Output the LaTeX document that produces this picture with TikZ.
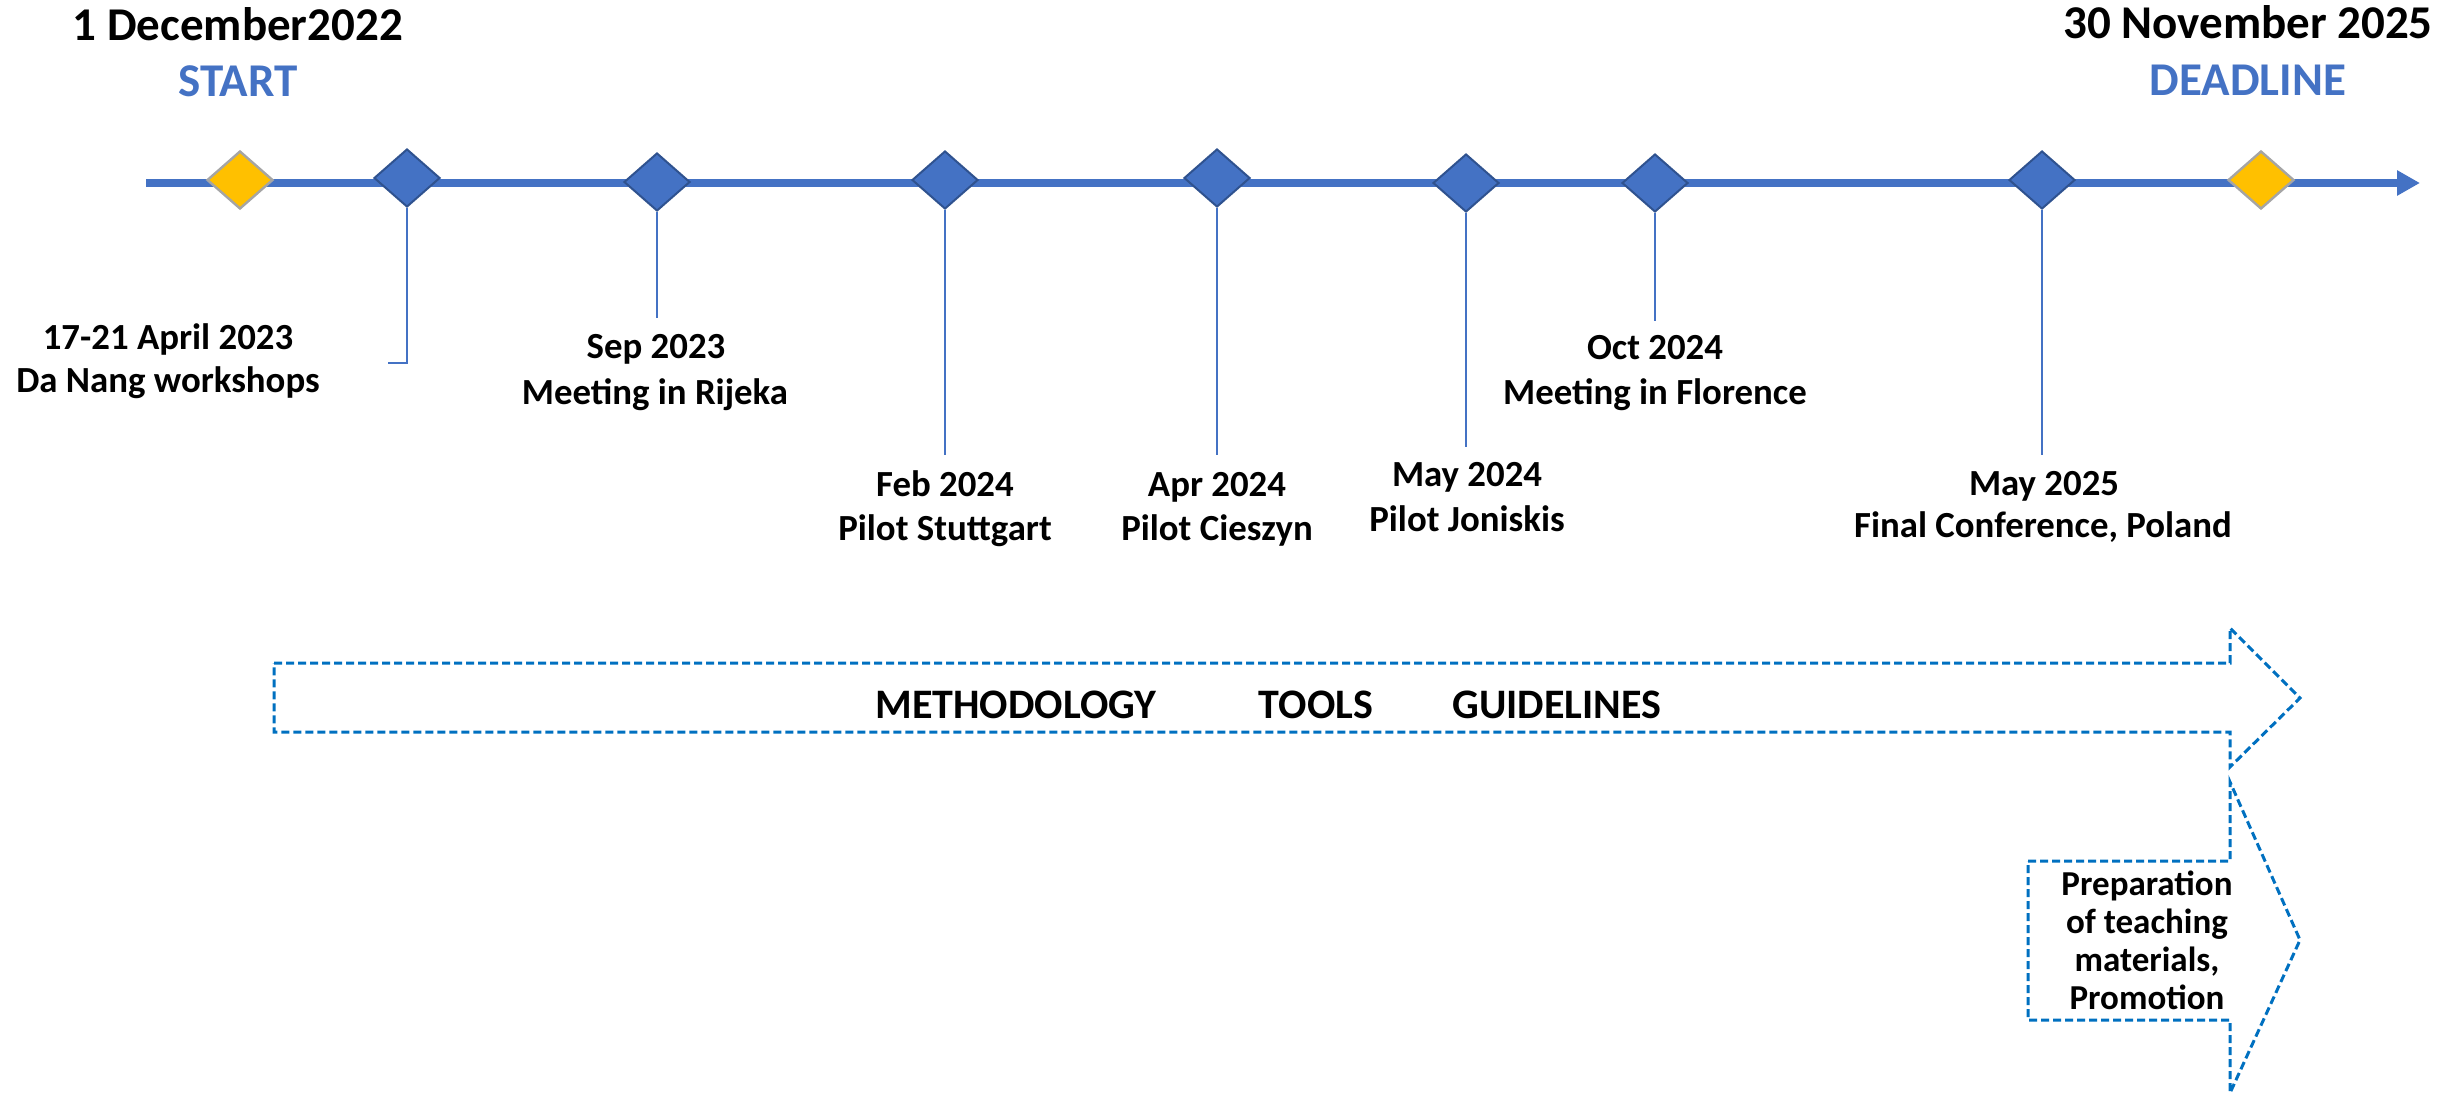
\documentclass[tikz,border=0pt]{standalone}
\usepackage{fontspec}
\setmainfont{Carlito}
\usetikzlibrary{shapes.geometric,arrows.meta}
\definecolor{tlblue}{HTML}{4472C4}
\definecolor{dkblue}{HTML}{2F528F}
\definecolor{gold}{HTML}{FFC000}
\definecolor{graybd}{HTML}{A5A5A5}
\definecolor{dashblue}{HTML}{0070C0}
\begin{document}
\begin{tikzpicture}[x=0.5pt,y=-0.5pt,
  milestone/.style={diamond, draw=dkblue, fill=tlblue, line width=1pt, minimum width=33pt, minimum height=29pt, inner sep=0pt},
  endpoint/.style={diamond, draw=graybd, fill=gold, line width=1.2pt, minimum width=33pt, minimum height=29pt, inner sep=0pt},
  leader/.style={draw=tlblue, line width=0.9pt},
  lbl/.style={font=\fontsize{18.4}{22}\selectfont\bfseries, anchor=base, inner sep=0pt},
  ttl/.style={font=\fontsize{23.5}{28}\selectfont\bfseries, anchor=base, inner sep=0pt},
  phase/.style={draw=dashblue, line width=1.5pt, dash pattern=on 4pt off 2pt},
  phasetxt/.style={font=\fontsize{21}{25}\selectfont\bfseries, anchor=base, inner sep=0pt},
]
\useasboundingbox (0,0) rectangle (2453,1096);

% titles
\node[ttl] (t1) at (238,41) {1 December2022};
\node[ttl, text=tlblue] (t2) at (238,97) {START};
\node[ttl] (t3) at (2248,39) {30 November 2025};
\node[ttl, text=tlblue] (t4) at (2248,96) {DEADLINE};

% timeline
\coordinate (tl0) at (146,183);
\coordinate (tl1) at (2420,183);
\draw[tlblue, line width=3.6pt, -{Triangle[length=11.5pt,width=12pt]}] (tl0) -- (tl1);

% milestones
\node[endpoint] (s) at (240,180) {};
\node[endpoint] (d) at (2261,180) {};
\node[milestone] (m1) at (407,178) {};
\node[milestone] (m2) at (657,182) {};
\node[milestone] (m3) at (945,180) {};
\node[milestone] (m4) at (1217,178) {};
\node[milestone] (m5) at (1466,183) {};
\node[milestone] (m6) at (1655,183) {};
\node[milestone] (m7) at (2042,180) {};

% leaders
\coordinate (e1) at (407,363); \coordinate (e1b) at (388,363);
\coordinate (e2) at (657,318);
\coordinate (e3) at (945,455);
\coordinate (e4) at (1217,455);
\coordinate (e5) at (1466,447);
\coordinate (e6) at (1655,321);
\coordinate (e7) at (2042,455);
\draw[leader] (m1.south) -- (e1) -- (e1b);
\draw[leader] (m2.south) -- (e2);
\draw[leader] (m3.south) -- (e3);
\draw[leader] (m4.south) -- (e4);
\draw[leader] (m5.south) -- (e5);
\draw[leader] (m6.south) -- (e6);
\draw[leader] (m7.south) -- (e7);

% labels
\node[lbl] (l1a) at (168,350) {17-21 April 2023};
\node[lbl] (l1b) at (168,393) {Da Nang workshops};
\node[lbl] (l2a) at (656,359) {Sep 2023};
\node[lbl] (l2b) at (655,405) {Meeting in Rijeka};
\node[lbl] (l3a) at (945,496) {Feb 2024};
\node[lbl] (l3b) at (945,540) {Pilot Stuttgart};
\node[lbl] (l4a) at (1217,496) {Apr 2024};
\node[lbl] (l4b) at (1217,540) {Pilot Cieszyn};
\node[lbl] (l5a) at (1467,487) {May 2024};
\node[lbl] (l5b) at (1467,531) {Pilot Joniskis};
\node[lbl] (l6a) at (1655,360) {Oct 2024};
\node[lbl] (l6b) at (1655,405) {Meeting in Florence};
\node[lbl] (l7a) at (2044,495) {May 2025};
\node[lbl] (l7b) at (2043,538) {Final Conference, Poland};

% phase arrows
\draw[phase] (274,663) -- (2230,663) -- (2230,628) -- (2300,698) -- (2230,767) -- (2230,732) -- (274,732) -- cycle;
\node[phasetxt] (p1) at (1016,718) {METHODOLOGY};
\node[phasetxt] (p2) at (1316,718) {TOOLS};
\node[phasetxt] (p3) at (1557,718) {GUIDELINES};

\draw[phase] (2028,861) -- (2230,861) -- (2230,782) -- (2300,940) -- (2230,1093) -- (2230,1020) -- (2028,1020) -- cycle;
\node[font=\fontsize{17.5}{19}\selectfont\bfseries, align=center, inner sep=0pt] (p4) at (2147,940) {Preparation\\of teaching\\materials,\\Promotion};
\end{tikzpicture}
\end{document}
